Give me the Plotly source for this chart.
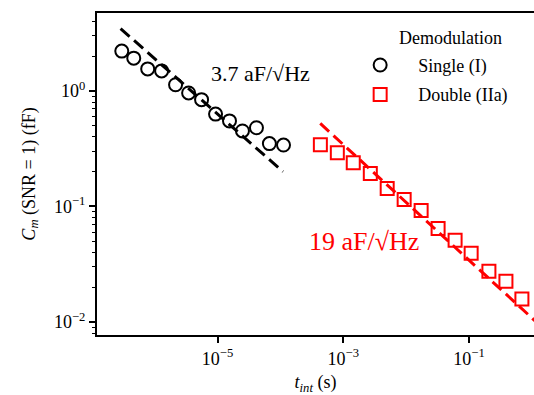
import plotly.graph_objects as go

# ---- data ----
single_t = [3.0e-7, 4.65e-7, 7.75e-7, 1.29e-6, 2.15e-6, 3.47e-6, 5.57e-6,
            9.3e-6, 1.55e-5, 2.49e-5, 4.16e-5, 6.68e-5, 1.12e-4]
single_c = [2.21, 1.92, 1.55, 1.49, 1.13, 0.96, 0.84, 0.63, 0.55, 0.45, 0.48, 0.35, 0.34]

double_t = [4.32e-4, 8.04e-4, 1.44e-3, 2.69e-3, 4.99e-3, 9.29e-3, 1.73e-2,
            3.22e-2, 6.0e-2, 0.108, 0.207, 0.386, 0.693]
double_c = [0.342, 0.292, 0.239, 0.193, 0.143, 0.115, 0.0924, 0.0646, 0.0509,
            0.0394, 0.0275, 0.0225, 0.0158]

fit_single_t = [2.87e-7, 1.10e-4]
fit_single_c = [3.46, 0.20]
fit_double_t = [4.30e-4, 1.2]
fit_double_c = [0.523, 0.0099]

x_tickvals = [1e-5, 1e-3, 1e-1]
x_ticktext = ["10<sup>−5</sup>", "10<sup>−3</sup>", "10<sup>−1</sup>"]
y_tickvals = [1e-2, 1e-1, 1e0]
y_ticktext = ["10<sup>−2</sup>", "10<sup>−1</sup>", "10<sup>0</sup>"]

FONT = "Liberation Serif"
RED = "#ff0000"

fig = go.Figure()
fig.add_trace(go.Scatter(x=fit_single_t, y=fit_single_c, mode="lines",
                         line=dict(color="black", width=3, dash="12px,6px"),
                         showlegend=False, hoverinfo="skip"))
fig.add_trace(go.Scatter(x=fit_double_t, y=fit_double_c, mode="lines",
                         line=dict(color=RED, width=3, dash="12px,6px"),
                         showlegend=False, hoverinfo="skip"))
fig.add_trace(go.Scatter(x=single_t, y=single_c, mode="markers", name="Single (I)",
                         legendgroup="a",
                         marker=dict(symbol="circle-open", size=13, color="black",
                                     line=dict(width=2, color="black"))))
fig.add_trace(go.Scatter(x=double_t, y=double_c, mode="markers", name="Double (IIa)",
                         legendgroup="b",
                         marker=dict(symbol="square-open", size=13, color=RED,
                                     line=dict(width=2, color=RED))))

fig.add_annotation(x=-5.13, y=0.15, xref="x", yref="y", text="3.7 aF/√Hz",
                   showarrow=False, xanchor="left", yanchor="middle",
                   font=dict(family=FONT, size=22, color="black"))
fig.add_annotation(x=-3.57, y=-1.30, xref="x", yref="y", text="19 aF/√Hz",
                   showarrow=False, xanchor="left", yanchor="middle",
                   font=dict(family=FONT, size=26, color=RED))
# legend title
fig.add_annotation(x=0.81, y=0.9215, xref="paper", yref="paper", text="Demodulation",
                   showarrow=False, xanchor="center", yanchor="middle",
                   font=dict(family=FONT, size=18, color="black"))

fig.update_layout(
    width=534, height=395,
    margin=dict(l=97, r=0, t=13, b=60, autoexpand=False),
    plot_bgcolor="white", paper_bgcolor="white",
    font=dict(family=FONT, size=18, color="black"),
    legend=dict(x=0.561, y=0.895, xanchor="left", yanchor="top",
                bgcolor="rgba(0,0,0,0)", borderwidth=0, itemwidth=66,
                tracegroupgap=3,
                font=dict(family=FONT, size=18)),
)
fig.update_xaxes(type="log", range=[-6.917, 0.033], showgrid=False, zeroline=False,
                 showline=True, linecolor="black", linewidth=2, mirror=True,
                 ticks="outside", ticklen=6, tickwidth=1.5, tickcolor="black",
                 tickvals=x_tickvals, ticktext=x_ticktext, automargin=False,
                 title=dict(text="<i>t<sub>int</sub></i> (s)", standoff=10,
                            font=dict(family=FONT, size=18)))
fig.update_yaxes(type="log", range=[-2.112, 0.674], showgrid=False, zeroline=False,
                 showline=True, linecolor="black", linewidth=2, mirror=False,
                 ticks="outside", ticklen=6, tickwidth=1.5, tickcolor="black",
                 tickvals=y_tickvals, ticktext=y_ticktext, automargin=False,
                 minor=dict(ticks="outside", ticklen=3.5, tickwidth=1.2, tickcolor="black",
                            dtick="D1", showgrid=False),
                 title=dict(text="<i>C<sub>m</sub></i> (SNR = 1) (fF)", standoff=14,
                            font=dict(family=FONT, size=18)))

fig.write_html("out.html", config={"displayModeBar": False},
               post_script="document.body.style.margin='0';"
                           "document.body.style.overflow='hidden';")
